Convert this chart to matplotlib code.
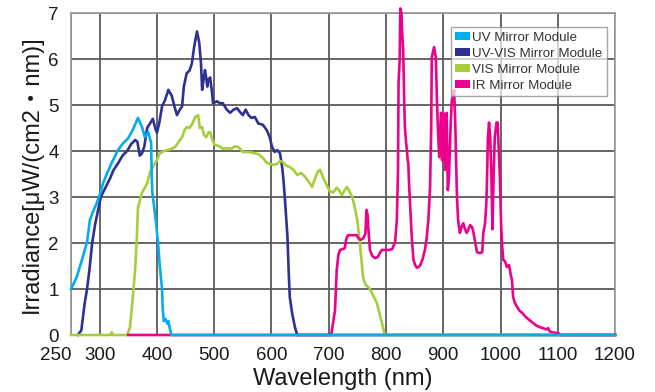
import matplotlib
matplotlib.use('Agg')
import numpy as np
from matplotlib import pyplot as plt
from matplotlib.patches import Patch

plt.rcParams['font.family'] = ['Liberation Sans', 'Noto Sans CJK JP', 'DejaVu Sans']

# UV Mirror Module
uv_nm = [250, 260, 269, 278, 283, 288, 295, 301, 306, 313, 321, 332, 341, 350, 358,
         367, 374, 379, 385, 390, 391, 392, 394, 398, 402, 405, 409, 410, 412, 415,
         418, 420, 425, 1200]
uv_val = [1.0, 1.26, 1.63, 2.02, 2.5, 2.67, 2.87, 3.08, 3.3, 3.52, 3.74, 4.02, 4.17, 4.28, 4.46,
          4.72, 4.52, 4.3, 4.41, 4.17, 3.43, 3.1, 2.9, 2.5, 2.0, 1.5, 1.0, 0.6, 0.3, 0.35,
          0.25, 0.3, 0.0, 0.0]

# UV-VIS Mirror Module
uvvis_nm = [262, 268, 274, 278, 282, 287, 292, 297, 302, 310, 318, 324, 333, 340, 348,
            355, 362, 366, 370, 374, 378, 383, 388, 393, 397, 400, 404, 409, 414, 420,
            426, 431, 435, 440, 444, 447, 452, 457, 461, 465, 470, 474, 477, 479, 482,
            484, 486, 488, 490, 493, 496, 498, 505, 510, 515, 522, 528, 534, 540, 545,
            550, 555, 560, 565, 571, 577, 585, 592, 597, 601, 606, 610, 615, 619, 621,
            624, 628, 630, 632, 636, 641, 645, 1200]
uvvis_val = [0.0, 0.1, 0.7, 1.0, 1.4, 2.0, 2.4, 2.7, 3.0, 3.2, 3.4, 3.58, 3.75, 3.9, 4.0,
             4.15, 4.24, 4.2, 3.9, 3.95, 4.1, 4.5, 4.6, 4.7, 4.5, 4.4, 4.6, 4.97, 5.1, 5.33,
             5.2, 4.95, 4.78, 4.9, 4.97, 5.4, 5.69, 5.75, 5.9, 6.26, 6.6, 6.35, 5.9, 5.33, 5.6,
             5.76, 5.6, 5.4, 5.55, 5.6, 5.3, 5.04, 5.08, 5.04, 5.04, 4.9, 4.83, 4.9, 4.93, 4.85,
             4.78, 4.9, 4.78, 4.72, 4.74, 4.6, 4.57, 4.45, 4.3, 4.09, 3.98, 4.02, 3.95, 3.62, 3.37,
             2.87, 2.13, 1.41, 0.83, 0.48, 0.17, 0.0, 0.0]

# VIS Mirror Module
vis_nm = [250, 318, 321, 324, 348, 353, 358, 362, 365, 367, 374, 383, 388, 393, 400,
          405, 412, 419, 426, 432, 438, 444, 448, 452, 457, 462, 467, 472, 475, 479,
          482, 486, 490, 493, 497, 501, 510, 515, 522, 530, 536, 543, 550, 557, 565,
          571, 578, 585, 592, 598, 603, 610, 615, 620, 626, 632, 638, 645, 652, 658,
          662, 667, 671, 676, 681, 685, 690, 695, 702, 708, 714, 718, 723, 728, 732,
          737, 741, 745, 750, 755, 760, 764, 769, 772, 778, 784, 788, 793, 798, 1200]
vis_val = [0.0, 0.0, 0.06, 0.0, 0.0, 0.17, 0.83, 1.41, 2.13, 2.78, 3.09, 3.3, 3.54, 3.65, 3.8,
           3.95, 4.0, 4.02, 4.05, 4.09, 4.2, 4.3, 4.45, 4.52, 4.5, 4.6, 4.74, 4.78, 4.5, 4.52,
           4.35, 4.3, 4.4, 4.41, 4.25, 4.13, 4.1, 4.05, 4.06, 4.05, 4.1, 4.08, 3.98, 3.98, 3.97,
           3.95, 3.93, 3.85, 3.74, 3.72, 3.7, 3.72, 3.78, 3.76, 3.68, 3.65, 3.6, 3.48, 3.52, 3.45,
           3.38, 3.3, 3.22, 3.4, 3.55, 3.59, 3.43, 3.3, 3.12, 3.1, 3.2, 3.15, 3.04, 3.15, 3.22,
           3.1, 3.0, 2.8, 2.5, 1.91, 1.26, 1.1, 1.04, 1.0, 0.85, 0.7, 0.5, 0.26, 0.0, 0.0]

# IR Mirror Module
ir_nm = [350, 702, 705, 708, 711, 714, 717, 720, 725, 728, 731, 734, 740, 745, 749,
         752, 756, 760, 764, 766, 768, 769, 771, 772, 776, 781, 786, 790, 793, 800,
         806, 811, 816, 819, 821, 822, 824, 825, 827, 828, 830, 832, 833, 835, 836,
         838, 839, 840, 842, 845, 848, 851, 854, 857, 860, 864, 868, 871, 874, 877,
         879, 880, 882, 884, 886, 887, 889, 891, 893, 896, 898, 900, 903, 906, 908,
         910, 913, 915, 917, 919, 921, 922, 924, 926, 929, 932, 935, 938, 941, 944,
         947, 950, 952, 955, 959, 964, 968, 970, 973, 975, 976, 978, 980, 982, 984,
         986, 988, 990, 993, 995, 997, 999, 1001, 1003, 1005, 1008, 1011, 1015, 1018, 1020,
         1022, 1025, 1029, 1033, 1038, 1042, 1046, 1051, 1057, 1063, 1069, 1076, 1080, 1083, 1085,
         1087, 1095, 1101, 1105, 1200]
ir_val = [0.0, 0.0, 0.05, 0.3, 0.54, 1.41, 1.75, 1.85, 1.87, 1.89, 2.1, 2.17, 2.17, 2.17, 2.17,
          2.1, 2.07, 2.1, 2.2, 2.72, 2.6, 2.35, 2.0, 1.85, 1.72, 1.67, 1.7, 1.8, 1.85, 1.85,
          1.85, 1.87, 2.02, 2.5, 3.59, 5.5, 6.0, 7.1, 7.0, 6.63, 6.2, 5.0, 4.52, 4.2, 4.09,
          3.8, 3.74, 3.37, 2.87, 2.13, 1.63, 1.52, 1.46, 1.48, 1.52, 1.65, 1.85, 2.1, 2.5, 3.22,
          4.52, 6.04, 6.15, 6.26, 6.1, 6.04, 5.1, 4.39, 3.87, 4.83, 3.8, 4.83, 3.59, 4.83, 3.15,
          3.43, 4.6, 5.1, 5.2, 5.33, 4.6, 4.02, 3.0, 2.5, 2.22, 2.35, 2.43, 2.3, 2.22, 2.3,
          2.39, 2.35, 2.28, 2.07, 1.8, 1.78, 1.8, 2.22, 2.43, 2.8, 3.15, 4.3, 4.62, 4.3, 3.5,
          2.3, 3.5, 4.3, 4.62, 4.62, 4.0, 3.4, 2.4, 1.91, 1.63, 1.6, 1.48, 1.52, 1.3, 1.2,
          0.83, 0.7, 0.61, 0.53, 0.48, 0.42, 0.37, 0.32, 0.26, 0.2, 0.17, 0.14, 0.12, 0.15, 0.1,
          0.07, 0.05, 0.04, 0.0, 0.0]

labels = ['UV Mirror Module', 'UV-VIS Mirror Module', 'VIS Mirror Module', 'IR Mirror Module']
colors = ['#00AEEF', '#2E3192', '#A6CE39', '#EC008C']
x_ticks = [250, 300, 400, 500, 600, 700, 800, 900, 1000, 1100, 1200]

fig = plt.figure(figsize=(6.55, 3.92), dpi=100)
ax = fig.add_axes([0.1084, 0.1454, 0.8306, 0.8214])

# drawing order: UV-VIS, VIS, IR, then UV on top
series = [(uvvis_nm, uvvis_val, colors[1]),
          (vis_nm, vis_val, colors[2]),
          (ir_nm, ir_val, colors[3]),
          (uv_nm, uv_val, colors[0])]
for xs, ys, c in series:
    ax.plot(xs, ys, color=c, linewidth=1.9, clip_on=False, zorder=3)

ax.set_xlim(250, 1200)
ax.set_ylim(0, 7)
ax.set_xticks(x_ticks)
ax.set_yticks(np.arange(0, 8, 1))
ax.grid(True, color='#5a5a5a', linewidth=1.3)
ax.set_axisbelow(True)
ax.tick_params(length=0, labelsize=13.5, colors='#1a1a1a')
ax.tick_params(axis='y', pad=9)
ax.tick_params(axis='x', pad=8.5)
# first x label sits left of the axis corner
ax.get_xticklabels()[0].set_horizontalalignment('right')
for side in ['left', 'right', 'top', 'bottom']:
    ax.spines[side].set_color('#9a9a9a')
    ax.spines[side].set_linewidth(1.2)

ax.set_xlabel('Wavelength (nm)', fontsize=17, color='#1a1a1a', labelpad=3)
ax.set_ylabel('Irradiance[μW/(cm2・nm)]', fontsize=17, color='#1a1a1a', labelpad=4)

handles = [Patch(facecolor=c, edgecolor='none') for c in colors]
leg = ax.legend(handles, labels, loc='upper right', bbox_to_anchor=(0.985, 0.9565),
                borderaxespad=0, fontsize=9.6, handlelength=1.1, handleheight=0.6,
                handletextpad=0.15, labelspacing=0.3, borderpad=0.35,
                fancybox=False, framealpha=0.7, edgecolor='#808080')
leg.get_frame().set_linewidth(1.0)
for t in leg.get_texts():
    t.set_color('#333333')

fig.savefig('out.png', dpi=100)
